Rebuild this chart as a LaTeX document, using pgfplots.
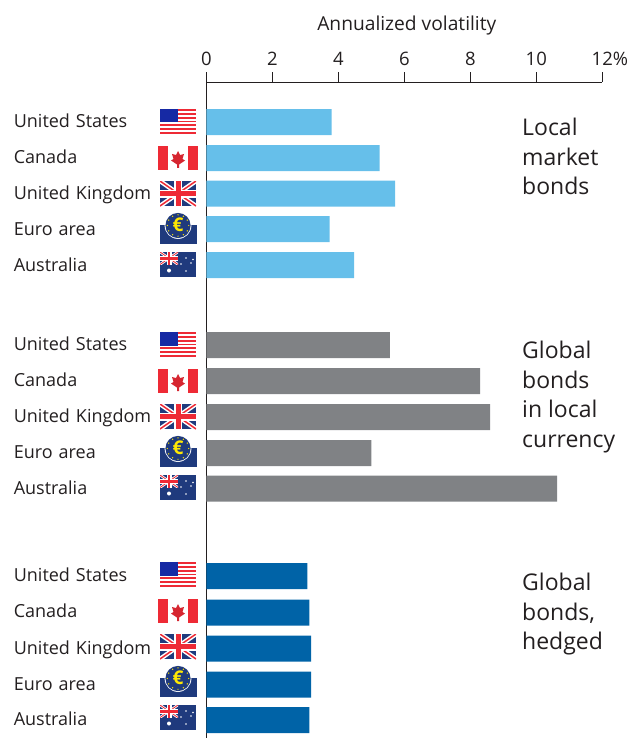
\documentclass[border=0pt]{standalone}
\usepackage{pgfplots}
\pgfplotsset{compat=1.18}
\usepackage{fontspec}
\setmainfont{Open Sans}
\definecolor{lb}{HTML}{66BFEA}
\definecolor{gb}{HTML}{808285}
\definecolor{db}{HTML}{0063A7}
\definecolor{fr}{HTML}{EE2A35}
\definecolor{fb}{HTML}{1F3A7D}
\definecolor{txt}{HTML}{231F20}
\newcommand{\usflag}{%
  \fill[white] (160,109) rectangle (196,134);
  \foreach \i in {0,2,4,6,8,10,12}{\fill[fr] (160,{109+\i*25/13}) rectangle (196,{109+(\i+1)*25/13});}
  \fill[fb!70!blue] (160,109) rectangle (178,122.5);
}
\newcommand{\caflag}{%
  \fill[white] (158,146) rectangle (198,170);
  \fill[fr] (158,146) rectangle (168,170);
  \fill[fr] (188,146) rectangle (198,170);
  \fill[fr!90!black] (178,151) -- (180,155) -- (184,154) -- (182.5,159) -- (185,160.5) -- (179,164.5) -- (179,168) -- (177,168) -- (177,164.5) -- (171,160.5) -- (173.5,159) -- (172,154) -- (176,155) -- cycle;
}
\newcommand{\ukflag}{%
  \fill[fb] (160,181) rectangle (196,206);
  \begin{scope}
  \clip (160,181) rectangle (196,206);
  \draw[white,line width=4.5pt] (160,181) -- (196,206) (196,181) -- (160,206);
  \draw[fr,line width=1.5pt] (160,181) -- (196,206) (196,181) -- (160,206);
  \end{scope}
  \fill[white] (174,181) rectangle (182,206);
  \fill[white] (160,189.5) rectangle (196,197.5);
  \fill[fr] (175.5,181) rectangle (180.5,206);
  \fill[fr] (160,191) rectangle (196,196);
}
\newcommand{\euflag}{%
  \fill[fb] (160,225) rectangle (197,244);
  \fill[white] (178,225.5) circle (13.4);
  \fill[fb] (178,225.5) circle (12.6);
  \foreach \a in {0,30,...,330}{\fill[yellow!90!orange] ({178+10.7*cos(\a)},{225.5+10.7*sin(\a)}) circle (0.7);}
  \node[inner sep=0pt,text=yellow!90!orange,font=\bfseries\fontsize{19}{19}\selectfont] at (178,225) {€};
}
\newcommand{\auflag}{%
  \fill[fb] (160,252) rectangle (196,277);
  \begin{scope}
  \clip (160,252) rectangle (178,264.5);
  \draw[white,line width=2.5pt] (160,252) -- (178,264.5) (178,252) -- (160,264.5);
  \draw[fr,line width=0.8pt] (160,252) -- (178,264.5) (178,252) -- (160,264.5);
  \fill[white] (166.5,252) rectangle (171.5,264.5);
  \fill[white] (160,256) rectangle (178,260.5);
  \fill[fr] (167.7,252) rectangle (170.3,264.5);
  \fill[fr] (160,257) rectangle (178,259.5);
  \end{scope}
  \fill[white] (169,270.5) circle (2);
  \foreach \p in {(186,258),(191,263),(186,271),(181,264),(193,259.5)}{\fill[white] \p circle (0.9);}
}
\begin{document}
\begin{tikzpicture}[x=1pt,y=-1pt]
\useasboundingbox (0,0) rectangle (627,738);
\begin{axis}[
  at={(206.3pt,-82pt)},anchor=north west,
  scale only axis,width=396pt,height=656pt,
  xmin=0,xmax=12,ymin=82,ymax=738,y dir=reverse,
  axis x line=top,axis y line=left,
  axis line style={-,line width=1pt,color=txt},
  clip=false,
  xtick={0,2,4,6,8,10,12},
  xticklabels={0,2,4,6,8,10,12\rlap{\%}},
  xtick style={color=txt,line width=0.7pt},
  tick align=outside,
  major tick length=10pt,
  ytick={121,157,193,229,264.5,344,380,416,452,487.5,574.5,610.5,647.5,683.5,718.5},
  yticklabels={United States,Canada,United Kingdom,Euro area,Australia,United States,Canada,United Kingdom,Euro area,Australia,United States,Canada,United Kingdom,Euro area,Australia},
  y tick style={draw=none},
  yticklabel style={text width=140pt,align=left,inner sep=0pt,xshift=-42.3pt,yshift=-2.5pt,font=\fontsize{18}{20}\selectfont,text=txt,anchor=east,text height=13pt,text depth=5pt},
  xticklabel style={font=\fontsize{18.5}{20}\selectfont,text=txt,inner sep=0pt,yshift=6pt},
  xlabel={Annualized volatility},
  xlabel style={font=\fontsize{19.2}{20}\selectfont,text=txt,xshift=2.5pt,yshift=14pt},
]
\addplot[xbar,bar shift=0pt,bar width=26pt,fill=lb,draw=none] coordinates {(3.8,122) (5.25,158) (5.72,193.5) (3.74,229) (4.48,265)};
\addplot[xbar,bar shift=0pt,bar width=26pt,fill=gb,draw=none] coordinates {(5.56,345) (8.3,381) (8.6,417) (5.0,453) (10.63,488.5)};
\addplot[xbar,bar shift=0pt,bar width=26pt,fill=db,draw=none] coordinates {(3.06,576) (3.12,612.5) (3.18,648.5) (3.18,684.5) (3.12,720)};
\end{axis}
\foreach \dy in {0,223,453}{
  \begin{scope}[yshift=-\dy pt]
  \usflag\caflag\ukflag\euflag\auflag
  \end{scope}
}
\node[anchor=north west,align=left,inner sep=0pt,text=txt,font=\fontsize{23}{29.6}\selectfont] at (522,118) {Local\\market\\bonds};
\node[anchor=north west,align=left,inner sep=0pt,text=txt,font=\fontsize{23}{29.6}\selectfont] at (522,341) {Global\\bonds\\in local\\currency};
\node[anchor=north west,align=left,inner sep=0pt,text=txt,font=\fontsize{23}{29.6}\selectfont] at (522,573) {Global\\bonds,\\hedged};
\end{tikzpicture}
\end{document}
